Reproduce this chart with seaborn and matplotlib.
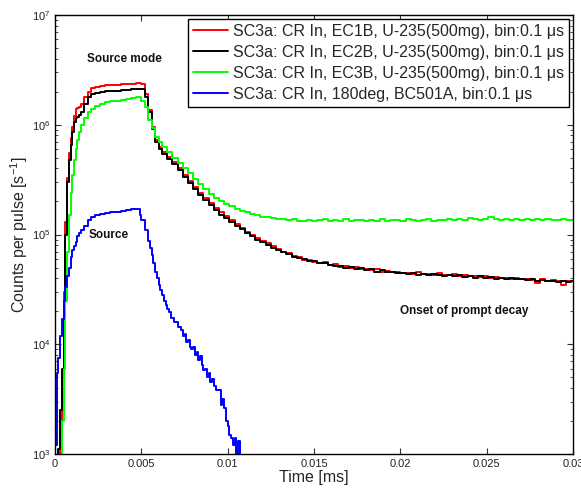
import numpy as np
import pandas as pd
import matplotlib
matplotlib.use("Agg")
import matplotlib.pyplot as plt
import matplotlib.ticker as mticker
import seaborn as sns

# ---------------- data ----------------
time_ms = [
    0.0000, 0.0001, 0.0002, 0.0003, 0.0004, 0.0005, 0.0006, 0.0007, 0.0008, 0.0009,
    0.0010, 0.0011, 0.0012, 0.0013, 0.0014, 0.0015, 0.0017, 0.0019, 0.0021, 0.0023,
    0.0026, 0.0029, 0.0032, 0.0035, 0.0038, 0.0041, 0.0044, 0.0047, 0.0050, 0.0052,
    0.0054, 0.0056, 0.0058, 0.0060, 0.0062, 0.0065, 0.0068, 0.0071, 0.0074, 0.0077,
    0.0080, 0.0083, 0.0086, 0.0089, 0.0092, 0.0095, 0.0098, 0.0101, 0.0104, 0.0107,
    0.0110, 0.0113, 0.0116, 0.0119, 0.0122, 0.0125, 0.0128, 0.0131, 0.0134, 0.0137,
    0.0140, 0.0143, 0.0146, 0.0149, 0.0152, 0.0155, 0.0158, 0.0161, 0.0164, 0.0167,
    0.0170, 0.0173, 0.0176, 0.0179, 0.0182, 0.0185, 0.0188, 0.0191, 0.0194, 0.0197,
    0.0200, 0.0203, 0.0206, 0.0209, 0.0212, 0.0215, 0.0218, 0.0221, 0.0224, 0.0227,
    0.0230, 0.0233, 0.0236, 0.0239, 0.0242, 0.0245, 0.0248, 0.0251, 0.0254, 0.0257,
    0.0260, 0.0263, 0.0266, 0.0269, 0.0272, 0.0275, 0.0278, 0.0281, 0.0284, 0.0287,
    0.0290, 0.0293, 0.0296, 0.0299, 0.0302,
]

ec1b = [
    1.0e2, 2.0e2, 5.0e2, 1.5e3, 5.0e3, 3.0e4, 1.3e5, 3.3e5, 5.5e5, 7.5e5,
    9.5e5, 1.2e6, 1.38e6, 1.42e6, 1.45e6, 1.55e6, 1.8e6, 2.0e6, 2.15e6, 2.2e6,
    2.25e6, 2.28e6, 2.3e6, 2.32e6, 2.33e6, 2.35e6, 2.37e6, 2.4e6, 2.35e6, 1.9e6,
    1.35e6, 9.5e5, 7.3e5, 6.3e5, 5.7e5, 5.1e5, 4.6e5, 4.0e5, 3.5e5, 3.05e5,
    2.7e5, 2.4e5, 2.15e5, 1.95e5, 1.75e5, 1.6e5, 1.48e5, 1.35e5, 1.25e5, 1.15e5,
    1.06e5, 1.0e5, 9.3e4, 8.8e4, 8.3e4, 7.9e4, 7.4e4, 7.0e4, 6.8e4, 6.4e4,
    6.2e4, 5.9e4, 5.85e4, 5.6e4, 5.5e4, 5.6e4, 5.3e4, 5.35e4, 5.1e4, 5.2e4,
    5.0e4, 5.1e4, 4.85e4, 4.9e4, 4.7e4, 4.8e4, 4.6e4, 4.65e4, 4.55e4, 4.6e4,
    4.45e4, 4.5e4, 4.4e4, 4.55e4, 4.35e4, 4.4e4, 4.3e4, 4.5e4, 4.3e4, 4.25e4,
    4.35e4, 4.2e4, 4.25e4, 4.15e4, 4.2e4, 4.1e4, 4.15e4, 4.05e4, 4.1e4, 4.0e4,
    4.05e4, 3.95e4, 4.0e4, 3.9e4, 3.95e4, 3.85e4, 3.6e4, 3.9e4, 3.8e4, 3.85e4,
    3.75e4, 3.5e4, 3.8e4, 3.75e4, 3.75e4,
]

ec2b = [
    1.0e2, 3.0e2, 1.1e3, 2.5e3, 6.0e3, 2.5e4, 1.0e5, 3.0e5, 4.8e5, 6.5e5,
    8.5e5, 1.05e6, 1.15e6, 1.17e6, 1.22e6, 1.3e6, 1.55e6, 1.8e6, 1.9e6, 1.95e6,
    2.0e6, 2.02e6, 2.04e6, 2.05e6, 2.07e6, 2.08e6, 2.1e6, 2.12e6, 2.1e6, 1.8e6,
    1.3e6, 9.2e5, 7.0e5, 6.0e5, 5.4e5, 4.9e5, 4.4e5, 3.85e5, 3.35e5, 2.95e5,
    2.6e5, 2.3e5, 2.05e5, 1.85e5, 1.68e5, 1.52e5, 1.42e5, 1.3e5, 1.2e5, 1.12e5,
    1.03e5, 9.6e4, 9.0e4, 8.5e4, 8.1e4, 7.6e4, 7.2e4, 6.9e4, 6.6e4, 6.3e4,
    6.1e4, 5.95e4, 5.7e4, 5.75e4, 5.45e4, 5.5e4, 5.25e4, 5.2e4, 5.15e4, 5.0e4,
    5.05e4, 4.9e4, 4.95e4, 4.75e4, 4.8e4, 4.6e4, 4.7e4, 4.55e4, 4.6e4, 4.45e4,
    4.5e4, 4.4e4, 4.45e4, 4.3e4, 4.4e4, 4.25e4, 4.35e4, 4.3e4, 4.2e4, 4.3e4,
    4.15e4, 4.25e4, 4.1e4, 4.2e4, 4.05e4, 4.15e4, 4.0e4, 4.1e4, 3.95e4, 4.05e4,
    3.95e4, 4.0e4, 3.9e4, 3.95e4, 3.85e4, 3.9e4, 3.8e4, 3.85e4, 3.75e4, 3.8e4,
    3.7e4, 3.8e4, 3.7e4, 3.75e4, 3.75e4,
]

ec3b = [
    1.0e2, 1.0e2, 2.0e2, 3.0e2, 2.0e3, 6.0e3, 2.5e4, 7.0e4, 1.5e5, 2.4e5,
    3.5e5, 4.8e5, 6.0e5, 7.3e5, 8.5e5, 1.0e6, 1.15e6, 1.3e6, 1.4e6, 1.47e6,
    1.55e6, 1.6e6, 1.63e6, 1.66e6, 1.68e6, 1.7e6, 1.75e6, 1.78e6, 1.65e6, 1.45e6,
    1.1e6, 9.3e5, 7.8e5, 7.0e5, 6.3e5, 5.7e5, 5.0e5, 4.5e5, 4.05e5, 3.6e5,
    3.2e5, 2.9e5, 2.6e5, 2.35e5, 2.15e5, 2.0e5, 1.9e5, 1.8e5, 1.7e5, 1.65e5,
    1.6e5, 1.55e5, 1.5e5, 1.45e5, 1.43e5, 1.4e5, 1.38e5, 1.37e5, 1.35e5, 1.37e5,
    1.34e5, 1.33e5, 1.36e5, 1.32e5, 1.35e5, 1.37e5, 1.33e5, 1.36e5, 1.34e5, 1.38e5,
    1.33e5, 1.36e5, 1.35e5, 1.32e5, 1.36e5, 1.34e5, 1.37e5, 1.33e5, 1.35e5, 1.36e5,
    1.33e5, 1.37e5, 1.35e5, 1.34e5, 1.36e5, 1.38e5, 1.34e5, 1.36e5, 1.35e5, 1.37e5,
    1.35e5, 1.38e5, 1.36e5, 1.42e5, 1.37e5, 1.35e5, 1.37e5, 1.44e5, 1.38e5, 1.35e5,
    1.37e5, 1.36e5, 1.39e5, 1.36e5, 1.37e5, 1.35e5, 1.38e5, 1.36e5, 1.37e5, 1.35e5,
    1.36e5, 1.38e5, 1.35e5, 1.36e5, 1.36e5,
]

time_blue_ms = [
    0.0000, 0.0001, 0.0002, 0.0003, 0.0004, 0.0005, 0.0006, 0.0007, 0.0008, 0.0009,
    0.0010, 0.0011, 0.0012, 0.0013, 0.0014, 0.0015, 0.0017, 0.0019, 0.0021, 0.0023,
    0.0026, 0.0029, 0.0032, 0.0035, 0.0038, 0.0041, 0.0044, 0.0047, 0.0049, 0.0050,
    0.0052, 0.0054, 0.0055, 0.0056, 0.0057, 0.0058, 0.0059, 0.0060, 0.0061, 0.0062,
    0.0063, 0.0064, 0.0065, 0.0066, 0.0067, 0.0069, 0.0071, 0.0073, 0.0074, 0.0075,
    0.0076, 0.0077, 0.0078, 0.0079, 0.0080, 0.0081, 0.0082, 0.0083, 0.0084, 0.0085,
    0.0086, 0.0087, 0.0088, 0.0089, 0.0090, 0.0091, 0.0092, 0.0093, 0.0094, 0.0095,
    0.0096, 0.0097, 0.0098, 0.0099, 0.0100, 0.0101, 0.0102, 0.0103, 0.0104, 0.0105,
    0.0106, 0.0107,
]

bc501a = [
    1.2e3, 5.5e3, 7.5e3, 1.2e4, 1.7e4, 2.5e4, 3.3e4, 4.2e4, 5.0e4, 6.2e4,
    7.2e4, 7.8e4, 8.6e4, 9.6e4, 1.03e5, 1.1e5, 1.2e5, 1.35e5, 1.45e5, 1.5e5,
    1.55e5, 1.58e5, 1.6e5, 1.62e5, 1.65e5, 1.68e5, 1.72e5, 1.7e5, 1.5e5, 1.35e5,
    1.1e5, 8.8e4, 7.5e4, 6.5e4, 5.5e4, 4.6e4, 4.0e4, 3.5e4, 3.1e4, 2.8e4,
    2.5e4, 2.3e4, 2.1e4, 1.95e4, 1.75e4, 1.6e4, 1.45e4, 1.35e4, 1.2e4, 1.25e4,
    1.05e4, 1.1e4, 9.5e3, 9.0e3, 9.5e3, 8.0e3, 8.5e3, 7.2e3, 7.8e3, 6.5e3,
    5.8e3, 6.0e3, 5.0e3, 5.5e3, 4.5e3, 4.8e3, 4.2e3, 3.8e3, 3.8e3, 3.8e3,
    2.8e3, 3.2e3, 2.6e3, 2.0e3, 1.8e3, 1.5e3, 1.4e3, 1.2e3, 1.4e3, 8.0e2,
    1.3e3, 5.0e2,
]

labels = [
    "SC3a: CR In, EC1B, U-235(500mg), bin:0.1 \u03bcs",
    "SC3a: CR In, EC2B, U-235(500mg), bin:0.1 \u03bcs",
    "SC3a: CR In, EC3B, U-235(500mg), bin:0.1 \u03bcs",
    "SC3a: CR In, 180deg, BC501A, bin:0.1 \u03bcs",
]
colors = ["#ff0000", "#000000", "#00ff00", "#0000ff"]

x_ticks = [0, 0.005, 0.01, 0.015, 0.02, 0.025, 0.03]
x_tick_labels = ["0", "0.005", "0.01", "0.015", "0.02", "0.025", "0.03"]

# ---------------- style ----------------
sns.set_style("ticks")
plt.rcParams["font.family"] = ["Liberation Sans", "DejaVu Sans"]
plt.rcParams["mathtext.fontset"] = "custom"
plt.rcParams["mathtext.rm"] = "Liberation Sans"
plt.rcParams["mathtext.it"] = "Liberation Sans:italic"
plt.rcParams["xtick.direction"] = "in"
plt.rcParams["ytick.direction"] = "in"

fig = plt.figure(figsize=(5.81, 4.95), dpi=100)
ax = fig.add_axes([55 / 581, 1 - 454 / 495, (573 - 55) / 581, (454 - 15) / 495])

series = [
    (time_ms, ec1b),
    (time_ms, ec2b),
    (time_ms, ec3b),
    (time_blue_ms, bc501a),
]
for (t, v), lab, col in zip(series, labels, colors):
    df = pd.DataFrame({"t": t, "v": v})
    sns.lineplot(data=df, x="t", y="v", ax=ax, color=col, label=lab,
                 estimator=None, sort=False, drawstyle="steps-post", lw=1.4)

ax.set_yscale("log")
ax.set_xlim(0, 0.03)
ax.set_ylim(1e3, 1e7)
ax.set_xticks(x_ticks)
ax.set_xticklabels(x_tick_labels)
ax.yaxis.set_major_locator(mticker.LogLocator(base=10, numticks=10))
ax.yaxis.set_minor_locator(mticker.LogLocator(base=10, subs=np.arange(2, 10), numticks=20))
ax.yaxis.set_minor_formatter(mticker.NullFormatter())
ax.tick_params(axis="both", which="both", top=True, right=True, labelsize=8,
               colors="#333333", labelcolor="#222222")
ax.tick_params(axis="both", which="major", length=4, width=0.8)
ax.tick_params(axis="y", which="minor", length=2.5, width=0.6)
for sp in ax.spines.values():
    sp.set_color("black")
    sp.set_linewidth(1.0)

ax.set_xlabel("Time [ms]", fontsize=11.5, labelpad=1)
ax.set_ylabel("Counts per pulse [s$^{-1}$]", fontsize=11.5, labelpad=1)

ax.text(0.0040, 4.0e6, "Source mode", fontsize=8.5, fontweight="bold", ha="center", va="center", color="#111111")
ax.text(0.0031, 9.8e4, "Source", fontsize=8.5, fontweight="bold", ha="center", va="center", color="#111111")
ax.text(0.0237, 2.0e4, "Onset of prompt decay", fontsize=8.5, fontweight="bold", ha="center", va="center", color="#111111")

leg = ax.legend(loc="upper right", fontsize=11.5, frameon=True, fancybox=False,
                edgecolor="black", framealpha=1, borderaxespad=0.25,
                handlelength=2.2, handletextpad=0.3, labelspacing=0.38,
                borderpad=0.3)
leg.get_frame().set_linewidth(1.0)

fig.savefig("out.png", dpi=100)
